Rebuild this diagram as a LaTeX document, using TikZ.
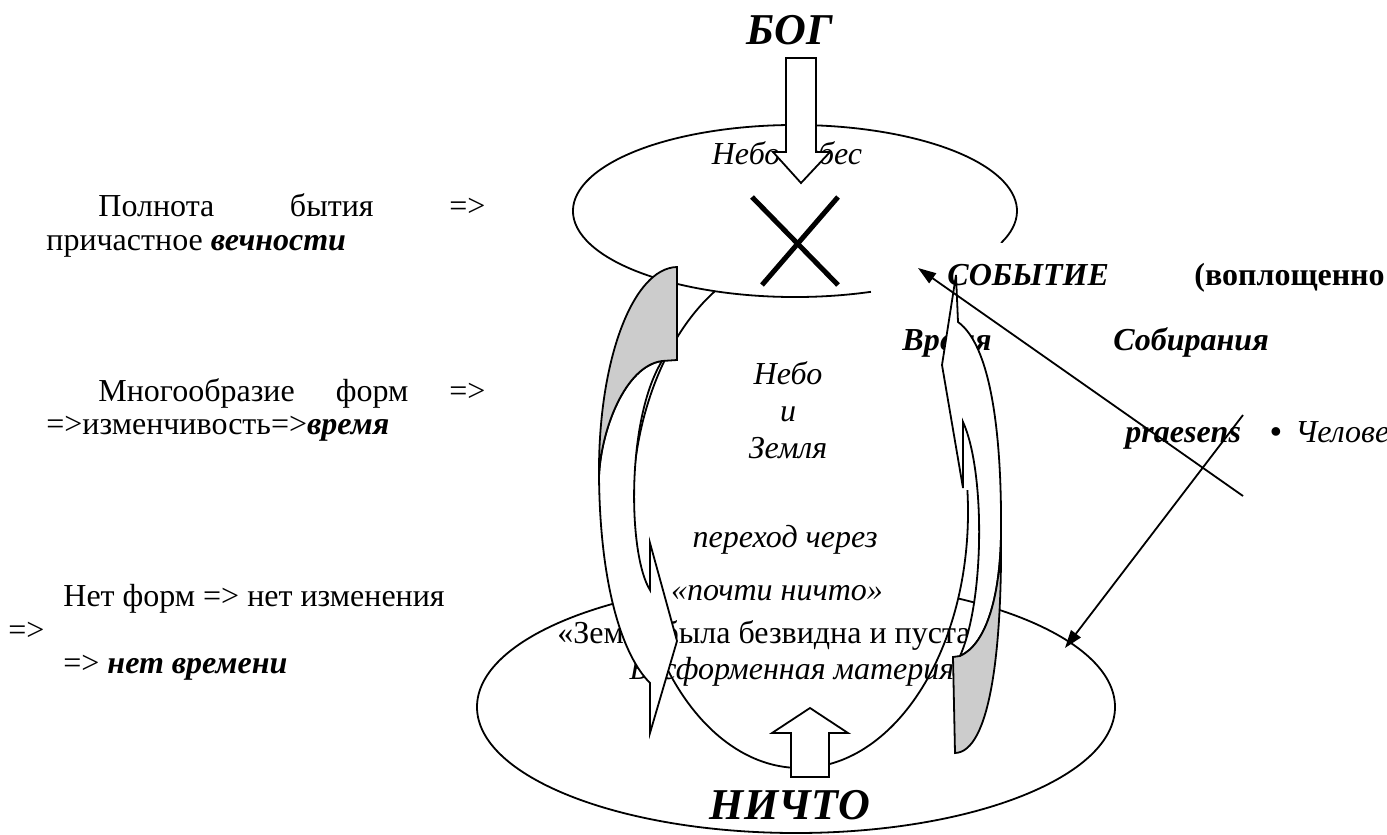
\documentclass[tikz,border=0pt]{standalone}
\usepackage{fontspec}
\setmainfont{Liberation Serif}
\usetikzlibrary{arrows.meta}

\newcommand{\bodysize}{\fontsize{16}{18.5}\selectfont}
\newcommand{\titlesize}{\fontsize{22}{26}\selectfont}
\newcommand{\bemph}[1]{\textbf{\textit{#1}}}

\begin{document}
\begin{tikzpicture}[x=0.5pt, y=-0.5pt,
  every node/.style={font=\bodysize, inner sep=0pt},
  outline/.style={draw=black, line width=0.9pt},
  blockarrow/.style={outline, fill=white, line join=miter},
  backface/.style={outline, fill=black!20},
  pointer/.style={line width=0.9pt, -{Triangle[length=9pt,width=6pt]}}]
  \useasboundingbox (0,0) rectangle (1387,835);
  \fill[white] (0,0) rectangle (1387,835);

  % ellipses
  \coordinate (heaven) at (795,211);
  \coordinate (earth) at (796,707);
  \coordinate (world) at (800,512);
  \draw[outline] (earth) ellipse [x radius=319, y radius=126];
  \draw[outline, fill=white] (world) ellipse [x radius=168, y radius=256];
  \fill[white] (heaven) ellipse [x radius=222, y radius=86];
  \draw[outline] (heaven) ++(70:222 and 86) arc [start angle=70, end angle=381.8, x radius=222, y radius=86];
  \fill[white] (872,243) rectangle (1387,490);

  \draw[line width=2.5pt] (752,197) -- (838,285);
  \draw[line width=2.5pt] (838,197) -- (762,285);

  % top
  \node[font=\titlesize\bfseries\itshape] (god) at (790,30) {БОГ};
  \node[font=\bodysize\itshape] (heavenOfHeavens) at (787,153) {Небо небес};
  \draw[blockarrow] (786,58) -- (816,58) -- (816,152) -- (830,152) -- (801,183) -- (773,152) -- (786,152) -- cycle;

  % inside
  \node[font=\bodysize\itshape, align=center] (heavenEarth) at (788,410) {Небо\\и\\Земля};
  \node[font=\bodysize\itshape] (passage) at (785,540) {переход через};
  \node[font=\bodysize\itshape, fill=white, inner sep=1pt] (almostNothing) at (777,593) {«почти ничто»};
  \node (formless) at (772,635) {«Земля была безвидна и пуста»};
  \node[font=\bodysize\itshape] (matter) at (792,672) {Бесформенная материя};

  % left curved arrow
  \draw[outline, fill=white, line join=miter] (599,476) .. controls (600,585) and (622,655) .. (650,683)
    -- (650,733) -- (677,641) -- (650,543) -- (650,590)
    .. controls (628,555) and (626,420) .. (662,361)
    .. controls (625,366) and (601,430) .. (599,476) -- cycle;
  \draw[backface] (677,267) .. controls (633,268) and (598,360) .. (599,476)
    .. controls (601,430) and (625,366) .. (662,361) -- (677,360) -- cycle;

  % right text
  \node[anchor=base west, font=\bodysize\bfseries\itshape] (event) at (947,285) {СОБЫТИЕ};
  \node[anchor=base west, font=\bodysize\bfseries] (embodied) at (1194,285) {(воплощенно};
  \node[anchor=base west, font=\bodysize\bfseries\itshape, fill=white] (timeWord) at (902,350) {Время};
  \node[anchor=base west, font=\bodysize\bfseries\itshape] (gathering) at (1113,350) {Собирания};
  \node[anchor=base west, font=\bodysize\bfseries\itshape] (praesens) at (1125,442) {praesens};
  \node[anchor=base west] (dot) at (1270,442) {\textbf{•}};
  \node[anchor=base west, font=\bodysize\itshape] (human) at (1295,442) {Челове};

  % right curved arrow
  \draw[outline, fill=white, line join=miter] (1001,535) .. controls (1002,430) and (990,345) .. (958,322)
    -- (956,275) -- (942,365) -- (963,488) -- (963,422)
    .. controls (985,470) and (985,600) .. (960,656)
    .. controls (985,645) and (1000,600) .. (1001,535) -- cycle;
  \draw[backface] (955,753) .. controls (990,752) and (1002,650) .. (1001,535)
    .. controls (1000,600) and (985,645) .. (960,656) -- (953,657) -- cycle;

  \coordinate (eventTip) at (918,268);
  \coordinate (eventTail) at (1243,496);
  \coordinate (earthTip) at (1065,648);
  \coordinate (earthTail) at (1243,415);
  \draw[pointer] (eventTail) -- (eventTip);
  \draw[pointer] (earthTail) -- (earthTip);

  % bottom
  \draw[blockarrow] (791,777) -- (791,733) -- (772,733) -- (810,708) -- (848,733) -- (829,733) -- (829,777) -- cycle;
  \node[font=\titlesize\bfseries\itshape, fill=white, inner sep=1pt] (nothing) at (790,805) {НИЧТО};

  % left column
  \node[anchor=base west] (fullness) at (98,216) {\makebox[193.5pt][s]{Полнота бытия =>}};
  \node[anchor=base west] (eternity) at (46,250) {причастное \bemph{вечности}};
  \node[anchor=base west] (forms) at (98,401) {\makebox[193.5pt][s]{Многообразие форм =>}};
  \node[anchor=base west] (change) at (46,434) {=>изменчивость=>\bemph{время}};
  \node[anchor=base west] (noForms) at (63,606) {Нет форм => нет изменения};
  \node[anchor=base west] (noFormsArrow) at (8,640) {=>};
  \node[anchor=base west] (noTime) at (63,673) {=> \bemph{нет времени}};
\end{tikzpicture}
\end{document}
